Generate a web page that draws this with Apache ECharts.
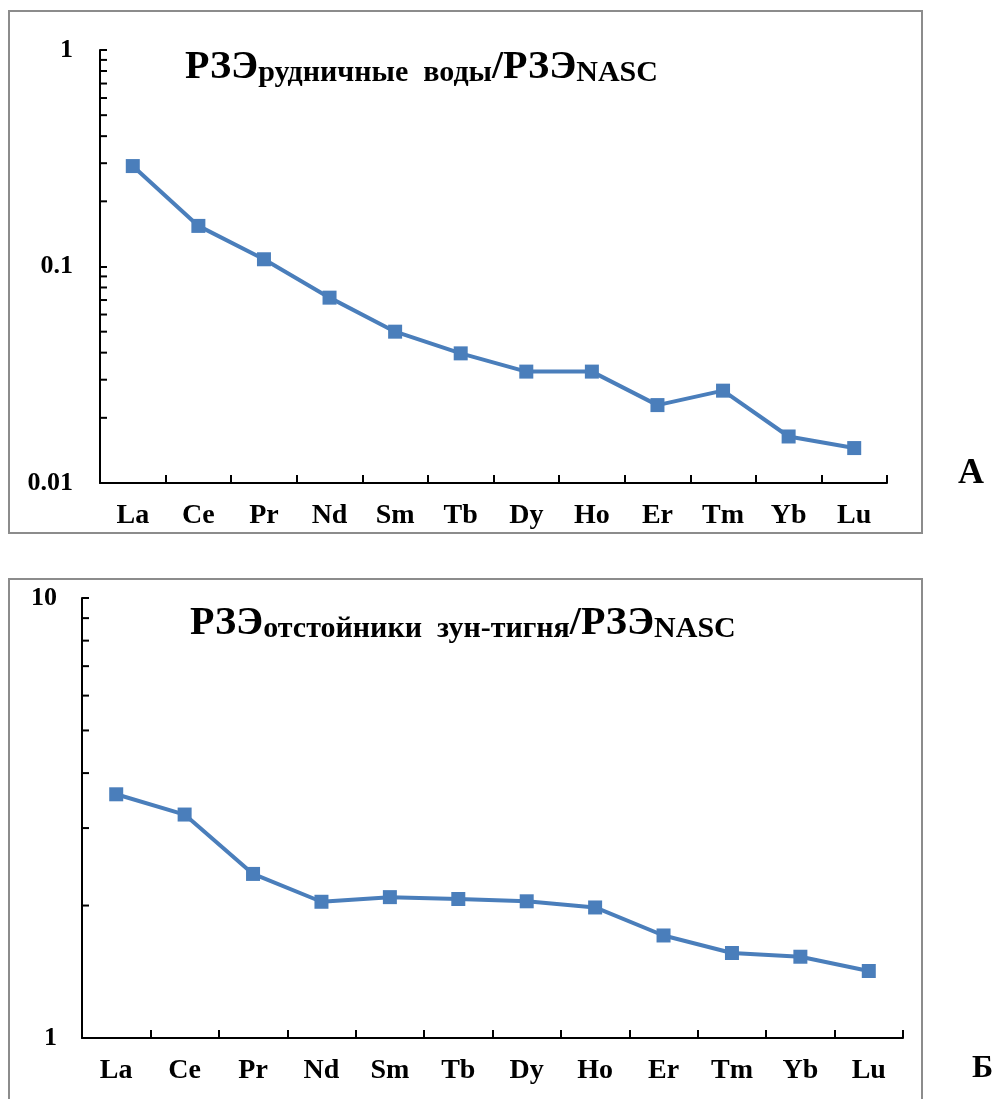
<!DOCTYPE html>
<html>
<head>
<meta charset="utf-8">
<script src="https://cdn.jsdelivr.net/npm/echarts@6/dist/echarts.min.js"></script>
<style>
html,body{margin:0;padding:0;background:#fff;}
#main{width:998px;height:1099px;}
</style>
</head>
<body>
<div id="main"></div>
<script>
// ---- data ----
const categories = ['La','Ce','Pr','Nd','Sm','Tb','Dy','Ho','Er','Tm','Yb','Lu'];
// A: mine waters / NASC
const valuesA = [0.291, 0.154, 0.108, 0.0718, 0.0500, 0.0397, 0.0327, 0.0327, 0.0229, 0.0267, 0.0164, 0.0145];
// Б: Zun-Tignya settling ponds / NASC
const valuesB = [3.58, 3.22, 2.36, 2.04, 2.09, 2.07, 2.045, 1.98, 1.71, 1.56, 1.53, 1.42];
// axis ranges and minor tick values (log axes)
const yRangeA = [0.01, 1];
const yRangeB = [1, 10];
const minorTicksA = [0.02,0.03,0.04,0.05,0.06,0.07,0.08,0.09,0.2,0.3,0.4,0.5,0.6,0.7,0.8,0.9];
const minorTicksB = [2,3,4,5,6,7,8,9];
const titleA = '{m|РЗЭ}{s|рудничные  воды}{m|/РЗЭ}{s|NASC}';
const titleB = '{m|РЗЭ}{s|отстойники  зун-тигня}{m|/РЗЭ}{s|NASC}';
const panelLetters = ['А', 'Б'];

// ---- styles ----
const FONT = '"Liberation Serif", "Times New Roman", serif';
const BLUE = '#4A7EBB';
const FRAME = '#8c8c8c';

const chart = echarts.init(document.getElementById('main'), null, {renderer: 'canvas'});

const richTitle = {
  m: {fontSize: 40, fontFamily: FONT, fontWeight: 'bold', color: '#000', lineHeight: 40, verticalAlign: 'bottom'},
  s: {fontSize: 30, fontFamily: FONT, fontWeight: 'bold', color: '#000', lineHeight: 29, verticalAlign: 'bottom'}
};

function xAxisCfg(gridIndex) {
  return {
    type: 'category', gridIndex: gridIndex, data: categories, boundaryGap: true,
    axisLine: {show: true, lineStyle: {color: '#000', width: 2}},
    axisTick: {show: true, inside: true, length: 8, interval: 0, lineStyle: {color: '#000', width: 2}},
    axisLabel: {show: true, interval: 0, margin: 19, color: '#000', fontFamily: FONT, fontWeight: 'bold', fontSize: 28},
    splitLine: {show: false}
  };
}
function yAxisCfg(gridIndex, range, margin) {
  return {
    type: 'log', logBase: 10, gridIndex: gridIndex, min: range[0], max: range[1],
    axisLine: {show: true, lineStyle: {color: '#000', width: 2}},
    axisTick: {show: true, inside: true, length: 7, lineStyle: {color: '#000', width: 2}},
    axisLabel: {show: true, margin: margin, color: '#000', fontFamily: FONT, fontWeight: 'bold', fontSize: 26},
    splitLine: {show: false},
    minorTick: {show: false}
  };
}
function lineSeries(idx, values) {
  return {
    type: 'line', xAxisIndex: idx, yAxisIndex: idx, data: values,
    symbol: 'rect', symbolSize: 14, showSymbol: true,
    lineStyle: {color: BLUE, width: 4},
    itemStyle: {color: BLUE},
    z: 10, animation: false
  };
}
function minorTickSeries(idx, ticks) {
  return {
    type: 'custom', xAxisIndex: idx, yAxisIndex: idx,
    data: ticks.map(v => [0, v]),
    silent: true, animation: false, clip: false, z: 5,
    renderItem: function (params, api) {
      const y = api.coord([0, api.value(1)])[1];
      const x = params.coordSys.x;
      return {type: 'line', shape: {x1: x, y1: y, x2: x + 7, y2: y}, style: {stroke: '#000', lineWidth: 2}};
    }
  };
}

const option = {
  backgroundColor: '#fff',
  animation: false,
  title: [
    {text: titleA, left: 185, top: 48, padding: 0, textStyle: {rich: richTitle}},
    {text: titleB, left: 190, top: 604, padding: 0, textStyle: {rich: richTitle}}
  ],
  grid: [
    {left: 100, top: 50, width: 787, height: 433, outerBoundsMode: 'none', containLabel: false},
    {left: 82, top: 598, width: 821, height: 440, outerBoundsMode: 'none', containLabel: false}
  ],
  xAxis: [xAxisCfg(0), xAxisCfg(1)],
  yAxis: [yAxisCfg(0, yRangeA, 27), yAxisCfg(1, yRangeB, 25)],
  series: [
    lineSeries(0, valuesA), lineSeries(1, valuesB),
    minorTickSeries(0, minorTicksA), minorTickSeries(1, minorTicksB)
  ],
  graphic: [
    {type: 'rect', shape: {x: 9, y: 11, width: 913, height: 522}, style: {fill: 'none', stroke: FRAME, lineWidth: 2}, silent: true, z: 0},
    {type: 'rect', shape: {x: 9, y: 579, width: 913, height: 560}, style: {fill: 'none', stroke: FRAME, lineWidth: 2}, silent: true, z: 0},
    {type: 'text', x: 958, y: 456, style: {text: panelLetters[0], fontSize: 36, fontWeight: 'bold', fontFamily: FONT, fill: '#000'}},
    {type: 'text', x: 972, y: 1053, style: {text: panelLetters[1], fontSize: 32, fontWeight: 'bold', fontFamily: FONT, fill: '#000'}}
  ]
};
chart.setOption(option);
</script>
</body>
</html>
